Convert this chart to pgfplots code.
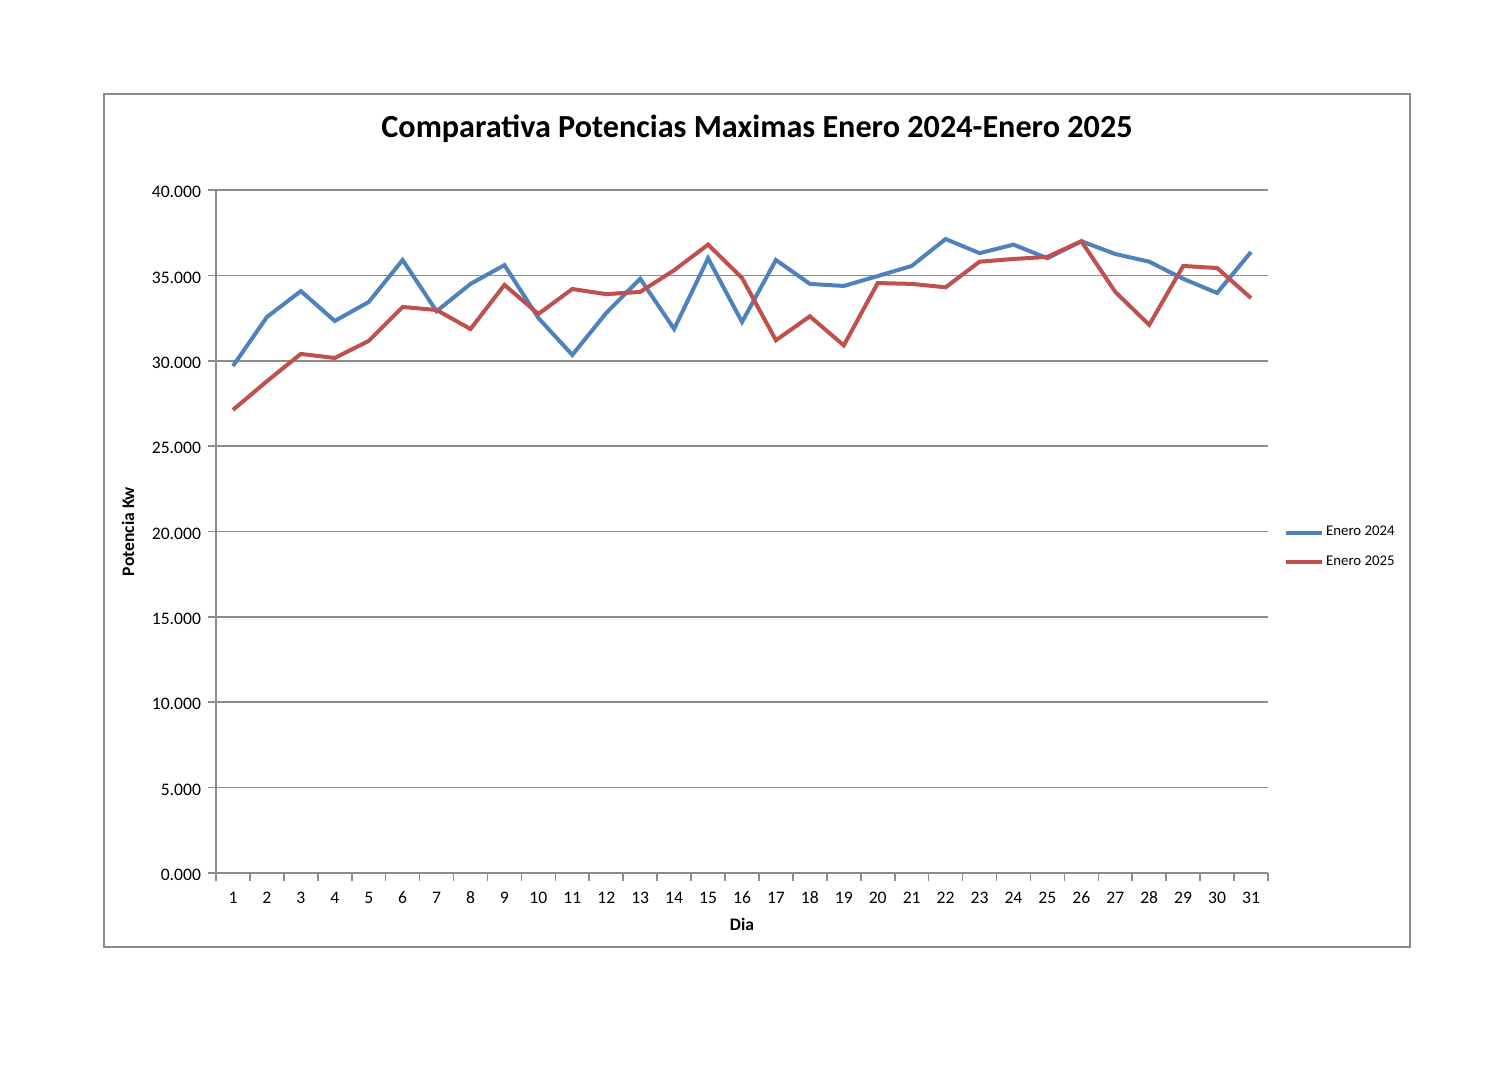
\documentclass[border=0pt]{standalone}
\usepackage{fontspec}
\setmainfont{Carlito}
\usepackage{pgfplots}
\pgfplotsset{compat=1.18}
\definecolor{s24}{HTML}{4F81BD}
\definecolor{s25}{HTML}{C0504D}
\definecolor{gridc}{HTML}{8C8C8C}
\begin{document}
\begin{tikzpicture}[x=0.5pt,y=0.5pt]
% page and chart frame (pixel units, y measured from the bottom)
\path[fill=white] (0,0) rectangle (1512,1080);
\draw[gridc,line width=0.8pt] (104,133) rectangle (1410,986);
\node[font=\bfseries\fontsize{16.1}{19}\selectfont] at (757,951) {Comparativa Potencias Maximas Enero 2024-Enero 2025};
\begin{axis}[
  at={(108pt,103.5pt)}, anchor=south west,
  scale only axis, width=526pt, height=341.5pt,
  xmin=0.5, xmax=31.5, ymin=0, ymax=40,
  axis x line*=bottom, axis y line*=left,
  axis line style={gridc, line width=0.8pt},
  xtick={1,...,31}, major x tick style={draw=none},
  minor xtick={0.5,1.5,...,31.5},
  minor x tick style={gridc, line width=0.8pt},
  minor tick length=4pt,
  ytick={0,5,...,40},
  major y tick style={gridc, line width=0.8pt},
  major tick length=4pt,
  tick align=outside,
  ymajorgrids, major grid style={gridc, line width=0.8pt},
  tick label style={font=\fontsize{8.8}{10}\selectfont, text height=1.6ex, text depth=0pt},
  /pgf/number format/assume math mode=true,
  yticklabel style={/pgf/number format/.cd, fixed, fixed zerofill, precision=3, assume math mode=true},
  xticklabel style={/pgf/number format/.cd, int detect, assume math mode=true},
  xlabel={Dia}, ylabel={Potencia Kw},
  label style={font=\bfseries\fontsize{8.8}{10}\selectfont},
  xlabel style={yshift=-0.5pt},
  ylabel style={yshift=2pt},
  legend style={draw=none, fill=none, at={(1.015,0.4766)}, anchor=west,
    font=\fontsize{7.4}{8}\selectfont, row sep=6.5pt, inner sep=0pt,
    nodes={inner sep=1pt}},
  legend cell align=left,
  legend image code/.code={\draw[#1] (0pt,0pt) -- (18pt,0pt);},
]
\addplot[s24, line width=2pt] coordinates {
(1,29.69) (2,32.56) (3,34.08) (4,32.33) (5,33.44) (6,35.90) (7,32.90) (8,34.50)
(9,35.60) (10,32.50) (11,30.34) (12,32.80) (13,34.80) (14,31.86) (15,36.00) (16,32.27)
(17,35.90) (18,34.50) (19,34.38) (20,34.96) (21,35.55) (22,37.13) (23,36.30) (24,36.80)
(25,36.00) (26,37.00) (27,36.25) (28,35.80) (29,34.80) (30,33.97) (31,36.37)
};
\addlegendentry{Enero 2024}
\addplot[s25, line width=2pt] coordinates {
(1,27.12) (2,28.80) (3,30.40) (4,30.16) (5,31.16) (6,33.15) (7,32.97) (8,31.86)
(9,34.44) (10,32.74) (11,34.20) (12,33.90) (13,34.03) (14,35.30) (15,36.80) (16,34.85)
(17,31.20) (18,32.60) (19,30.90) (20,34.55) (21,34.50) (22,34.30) (23,35.80) (24,35.96)
(25,36.08) (26,37.00) (27,34.03) (28,32.10) (29,35.55) (30,35.43) (31,33.67)
};
\addlegendentry{Enero 2025}
\end{axis}
\end{tikzpicture}
\end{document}
